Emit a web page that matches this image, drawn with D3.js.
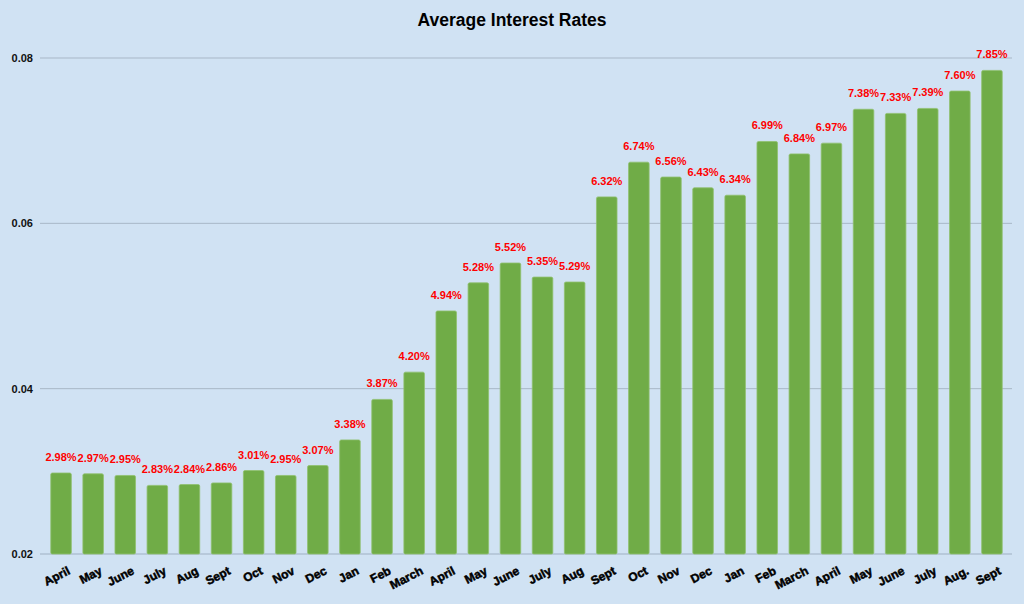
<!DOCTYPE html>
<html><head><meta charset="utf-8">
<script src="https://cdn.jsdelivr.net/npm/d3@7"></script>
<style>html,body{margin:0;padding:0;background:#d0e2f3;}svg{display:block;font-family:Arial,"Liberation Sans",sans-serif;}</style>
</head><body>
<script>
const months = ["April","May","June","July","Aug","Sept","Oct","Nov","Dec","Jan","Feb","March","April","May","June","July","Aug","Sept","Oct","Nov","Dec","Jan","Feb","March","April","May","June","July","Aug.","Sept"];
const rates = [2.98,2.97,2.95,2.83,2.84,2.86,3.01,2.95,3.07,3.38,3.87,4.20,4.94,5.28,5.52,5.35,5.29,6.32,6.74,6.56,6.43,6.34,6.99,6.84,6.97,7.38,7.33,7.39,7.60,7.85];
const yTicks = [0.02,0.04,0.06,0.08];
const title = "Average Interest Rates";

const W=1024,H=604;
const svg=d3.select("body").append("svg").attr("width",W).attr("height",H);
svg.append("rect").attr("width",W).attr("height",H).attr("fill","#d0e2f3");

const y=d3.scaleLinear().domain([0.02,0.08]).range([554,58]);
const x=d3.scaleBand().domain(d3.range(rates.length)).range([45,1008]).paddingInner(0.36).paddingOuter(0.18);

svg.append("text").attr("x",512).attr("y",26).attr("text-anchor","middle")
  .attr("font-size",17.5).attr("font-weight","bold").attr("fill","#000").text(title);

svg.append("g").selectAll("line").data(yTicks).join("line")
  .attr("x1",40).attr("x2",1012).attr("y1",d=>y(d)).attr("y2",d=>y(d))
  .attr("stroke",d=>d===0.02?"#9fb0c2":"#a8b7c7").attr("stroke-width",1);

const yAxis=d3.axisLeft(y).tickValues(yTicks).tickSize(0).tickPadding(0).tickFormat(d3.format(".2f"));
const ga=svg.append("g").attr("transform","translate(33,0)").call(yAxis);
ga.select(".domain").remove();
ga.selectAll("text").attr("font-size",11).attr("font-weight","bold").attr("fill","#111").attr("font-family","Arial,'Liberation Sans',sans-serif");

svg.append("g").selectAll("rect").data(rates).join("rect")
  .attr("x",(d,i)=>x(i)).attr("width",x.bandwidth())
  .attr("y",d=>y(d/100)).attr("height",d=>y(0.02)-y(d/100))
  .attr("rx",1.5).attr("fill","#70ac47").attr("stroke","#8fc06e").attr("stroke-width",0.8);

svg.append("g").selectAll("text").data(rates).join("text")
  .attr("x",(d,i)=>x(i)+x.bandwidth()/2).attr("y",d=>y(d/100)-12)
  .attr("text-anchor","middle").attr("font-size",11).attr("font-weight","bold").attr("fill","#ff0000")
  .text(d=>d.toFixed(2)+"%");

svg.append("g").selectAll("text").data(months).join("text")
  .attr("text-anchor","end").attr("font-size",12).attr("font-weight","bold").attr("fill","#000")
  .attr("stroke","#000").attr("stroke-width",0.5)
  .attr("transform",(d,i)=>`translate(${x(i)+x.bandwidth()/2+6},${566}) rotate(-27)`)
  .attr("dy","0.7em")
  .text(d=>d);
</script>
</body></html>
